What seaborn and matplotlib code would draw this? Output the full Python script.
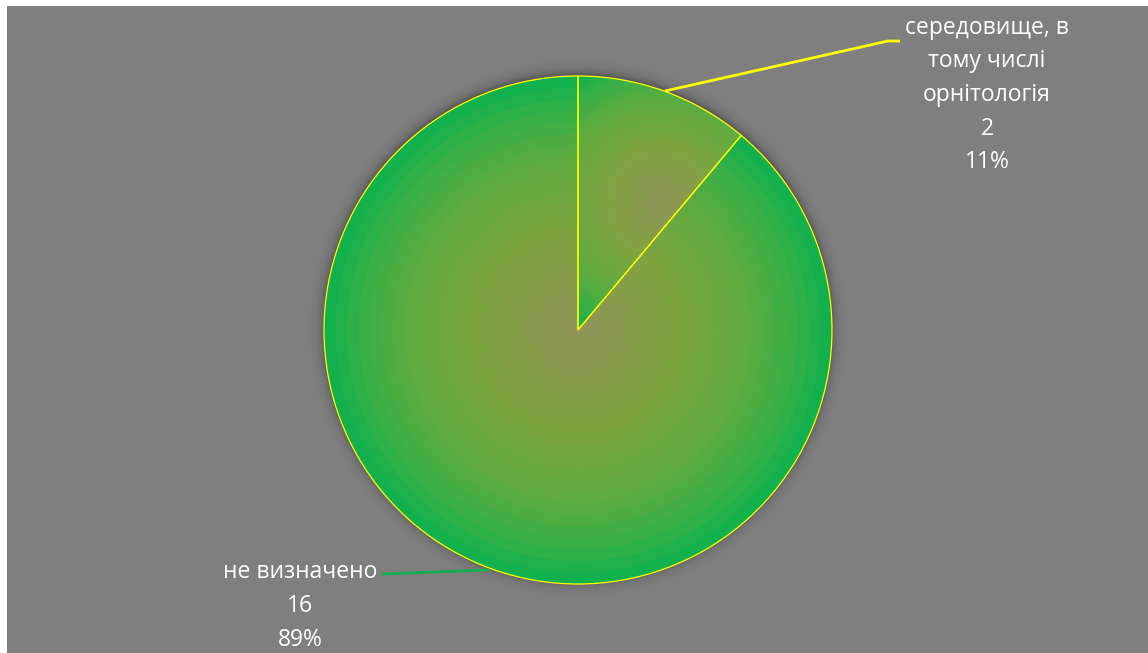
import numpy as np
import matplotlib
matplotlib.use("Agg")
import matplotlib.pyplot as plt
import seaborn as sns
from matplotlib.patches import Rectangle

# ---- data ----
categories = ["середовище, в\nтому числі\nорнітологія", "не визначено"]
values = [2, 16]

W, H = 1148, 653
sns.set_theme(style="white")
plt.rcParams['font.family'] = ['Open Sans', 'DejaVu Sans']

fig = plt.figure(figsize=(W / 100, H / 100), dpi=100, facecolor='white')
ax = fig.add_axes([0, 0, 1, 1])

cx, cy = 578, H - 330
R = 254

wedges, _ = ax.pie(values, startangle=90, counterclock=False, center=(cx, cy), radius=R,
                   colors=['none', 'none'],
                   wedgeprops=dict(edgecolor='#FFFF00', linewidth=0.9, zorder=4))

ax.set_xlim(0, W)
ax.set_ylim(0, H)
ax.set_aspect('auto')
ax.axis('off')

# background panel
ax.add_patch(Rectangle((7, 0), W - 7, H - 6, facecolor='#7F7F7F', edgecolor='none', zorder=-3))

# soft shadow around the pie
ext = (cx - R - 30, cx + R + 30, cy - R - 30, cy + R + 30)
xs = np.arange(ext[0], ext[1]) + 0.5
ys = np.arange(ext[2], ext[3]) + 0.5
X, Y = np.meshgrid(xs, ys)
rr = np.hypot(X - cx, Y - (cy + 2))
sh = np.zeros(X.shape + (4,))
a = np.where(rr > R - 2, 0.28 * np.exp(-np.clip(rr - R, 0, None) / 5.0), 0.28)
sh[..., 3] = a
ax.imshow(sh, extent=ext, origin='lower', zorder=-2, interpolation='bilinear')

# gradient fills
stops_t = np.array([0.0, 0.35, 0.65, 0.85, 1.0])
stops_c = np.array([[143, 150, 88], [128, 164, 66], [95, 172, 64], [50, 176, 72], [6, 178, 80]]) / 255.0


def grad_img(gx, gy, gr, steps):
    d = np.hypot(X - gx, Y - gy) / gr
    t = np.clip(d, 0, 1)
    t = np.floor(t * steps) / steps
    img = np.zeros(X.shape + (3,))
    for k in range(3):
        img[..., k] = np.interp(t, stops_t, stops_c[:, k])
    return img


grad_specs = [(660, H - 203, 152, 30), (cx, cy, R, 22)]
for w, (gx, gy, gr, st) in zip(wedges, grad_specs):
    im = ax.imshow(grad_img(gx, gy, gr, st), extent=ext, origin='lower', zorder=2,
                   interpolation='nearest')
    im.set_clip_path(w)

ax.set_xlim(0, W)
ax.set_ylim(0, H)
ax.set_aspect('auto')

# labels
total = sum(values)
labels = [f"{c}\n{v}\n{round(v / total * 100)}%" for c, v in zip(categories, values)]
fs = 16.5
ax.text(987, H - 95, labels[0], ha='center', va='center', color='white', fontsize=fs,
        linespacing=1.53, zorder=5)
ax.text(300, H - 606, labels[1], ha='center', va='center', color='white', fontsize=fs,
        linespacing=1.53, zorder=5)

# leader lines
ax.plot([665, 888, 900], [H - 91, H - 41, H - 41], color='#FFFF00', lw=2, zorder=5,
        solid_capstyle='butt')
ax.plot([382, 490], [H - 574, H - 570], color='#12B050', lw=2, zorder=5,
        solid_capstyle='butt')

fig.savefig('out.png', dpi=100, facecolor='white')
